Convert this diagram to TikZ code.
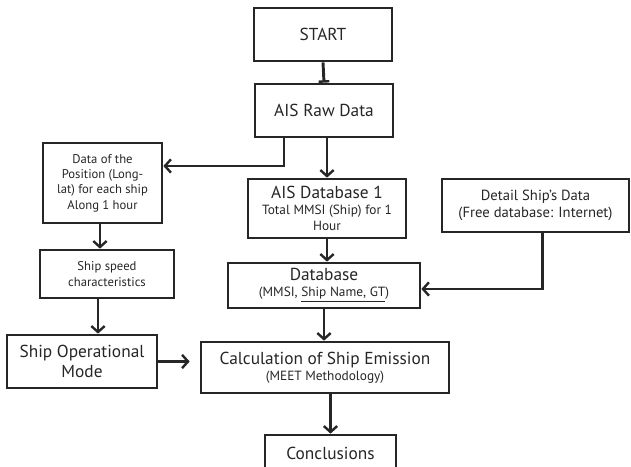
\documentclass[tikz,border=0pt]{standalone}
\usepackage{fontspec}
\setmainfont{PT Sans}
\usetikzlibrary{arrows.meta}
\begin{document}
\begin{tikzpicture}[x=0.75pt,y=-0.75pt,
  box/.style={draw=black!85,line width=2pt,rectangle,align=center,inner sep=1pt,text=black!85},
  arr/.style={draw=black!85,line width=2.2pt,-{Straight Barb[length=4.5pt,width=10pt,line width=1.8pt]}},
  big/.style={font=\fontsize{13}{15}\selectfont},
  mid/.style={font=\fontsize{11}{13}\selectfont},
  small/.style={font=\fontsize{9.5}{11.5}\selectfont}]
\clip (0,0) rectangle (631,467);
\useasboundingbox (0,0) rectangle (631,467);
\node[box,big,minimum width=103.5pt,minimum height=39.75pt] (start) at (323,34.5) {START};
\node[box,big,minimum width=103.5pt,minimum height=39.75pt] (raw) at (324,110.5) {AIS Raw Data};
\node[box,small,minimum width=89.25pt,minimum height=60pt] (pos) at (102.5,183) {Data of the\\Position (Long-\\lat) for each ship\\Along 1 hour};
\node[box,small,minimum width=100.5pt,minimum height=36pt] (speed) at (107,274) {Ship speed\\characteristics};
\node[box,big,minimum width=112.5pt,minimum height=39.75pt] (opmode) at (82,361.5) {Ship Operational\\Mode};
\node[box,minimum width=118.5pt,minimum height=44.25pt] (db1) at (327,208.5) {{\fontsize{13}{14}\selectfont AIS Database 1}\\{\fontsize{10}{12}\selectfont Total MMSI (Ship) for 1}\\{\fontsize{10}{12}\selectfont Hour}};
\node[box,mid,minimum width=140.25pt,minimum height=39.75pt] (detail) at (535.5,205.5) {Detail Ship’s Data\\(Free database: Internet)};
\node[box,minimum width=144pt,minimum height=33.75pt] (db) at (324,285.5) {{\fontsize{13}{14}\selectfont Database}\\{\fontsize{10}{12}\selectfont (MMSI, \underline{Ship Name, GT})}};
\node[box,minimum width=186pt,minimum height=38.25pt] (calc) at (325,367.5) {{\fontsize{13}{15}\selectfont Calculation of Ship Emission}\\{\fontsize{10}{12}\selectfont (MEET Methodology)}};
\node[box,big,minimum width=98.25pt,minimum height=27pt] (concl) at (330.5,453) {Conclusions};
\draw[draw=black!85,line width=2.2pt,-{Bar[width=8pt,line width=1.8pt]}] (start.south) -- (raw.north);
\draw[arr] ([xshift=-30pt]raw.south) |- ([yshift=12.75pt]pos.east);
\draw[arr] (raw.south -| db1.north) -- (db1.north);
\draw[arr] (db1.south) -- (db1.south |- db.north);
\draw[arr] ([xshift=4.9pt]detail.south) |- ([yshift=-2.6pt]db.east);
\draw[arr] ([xshift=-1.9pt]pos.south) -- ([xshift=-1.9pt]pos.south |- speed.north);
\draw[arr] ([xshift=-6.75pt]speed.south) -- ([xshift=-6.75pt]speed.south |- opmode.north);
\draw[arr] (opmode.east) -- ([xshift=-7.5pt]calc.west |- opmode.east);
\draw[arr] (db.south) -- (db.south |- calc.north);
\draw[arr] (calc.south -| concl.north) -- (concl.north);
\end{tikzpicture}
\end{document}
